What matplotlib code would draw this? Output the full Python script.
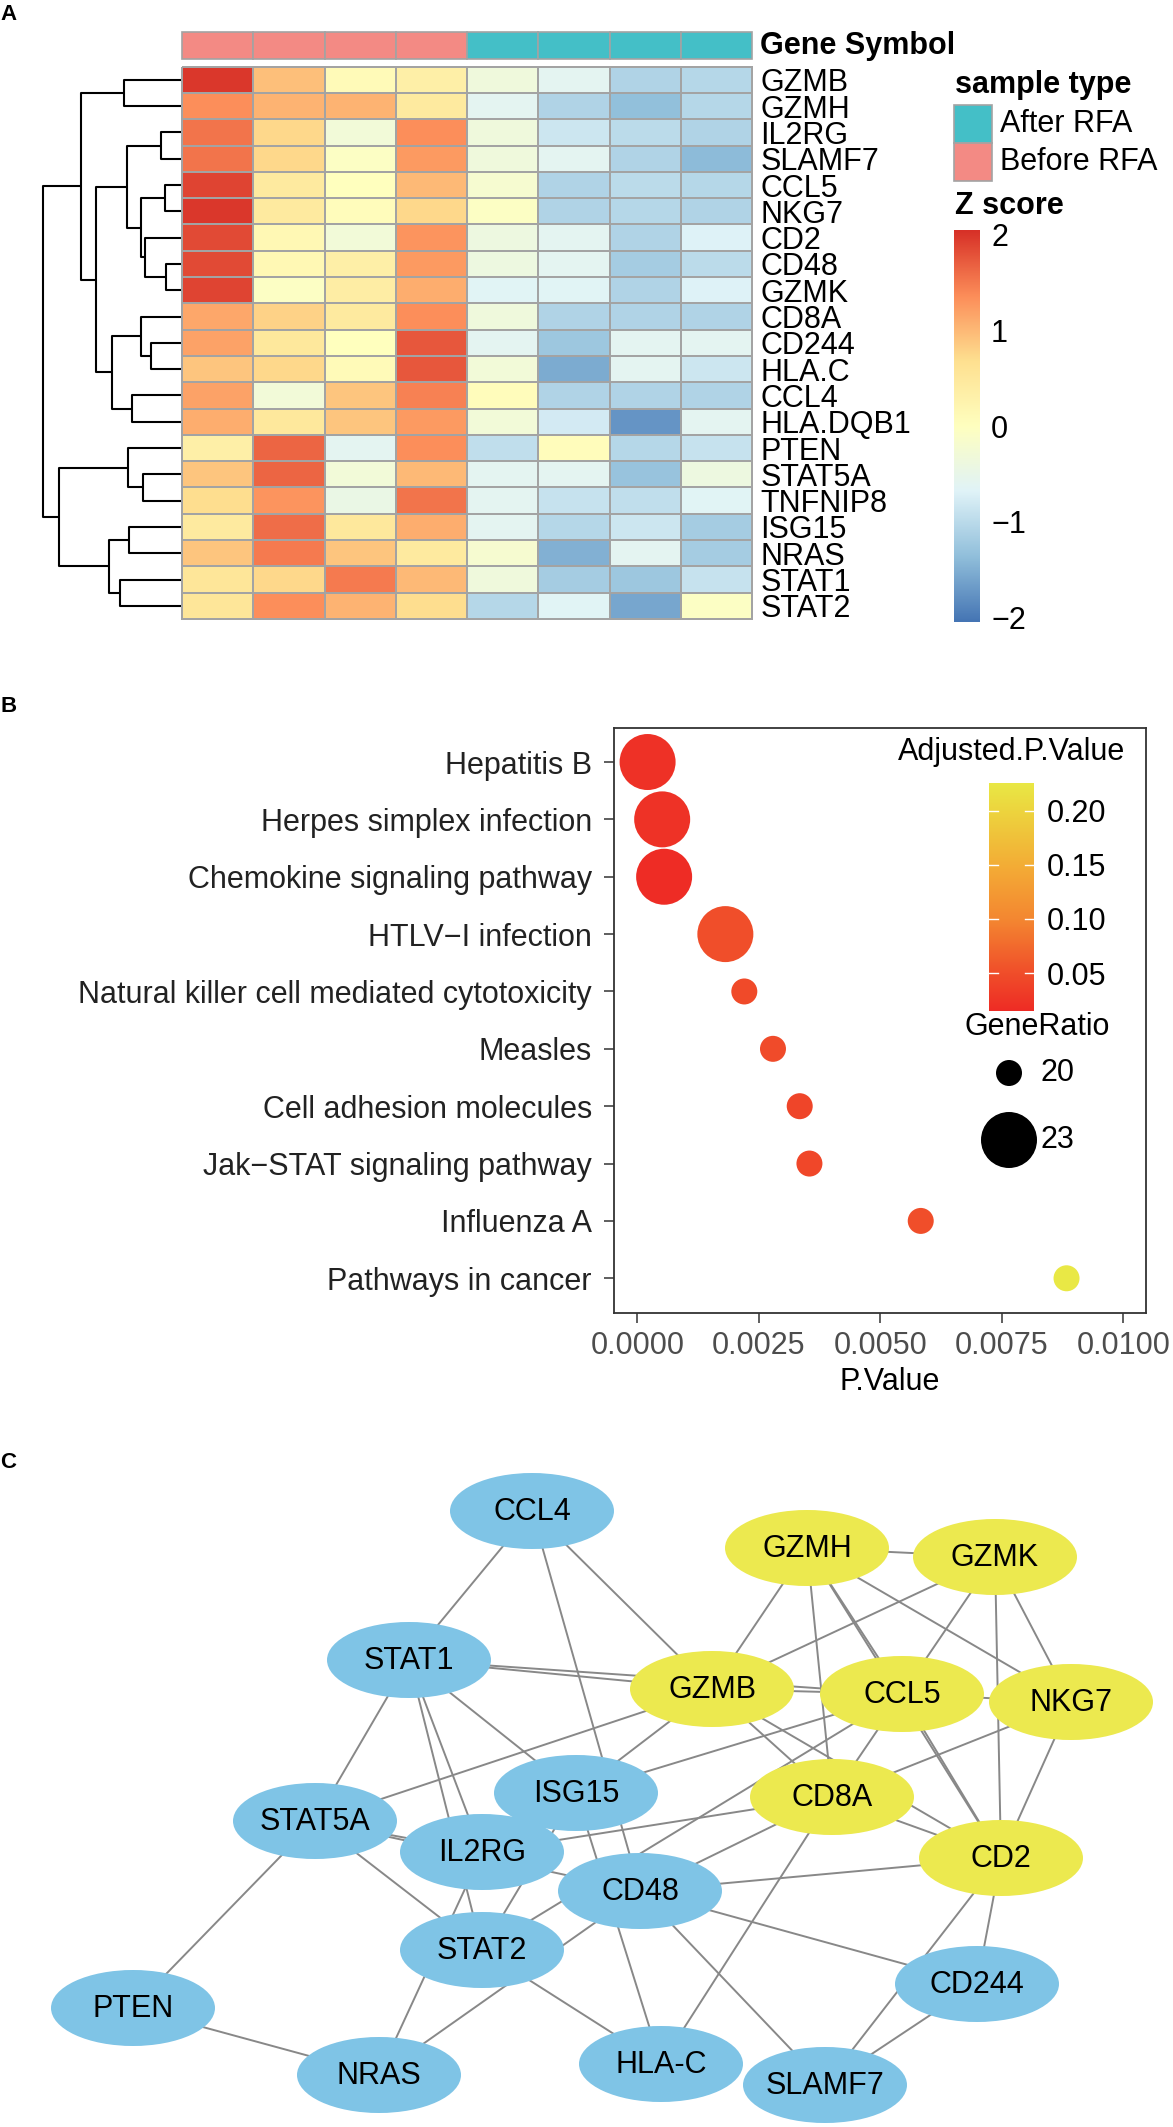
import numpy as np
import matplotlib
matplotlib.use("Agg")
import matplotlib.pyplot as plt
from matplotlib.colors import LinearSegmentedColormap, Normalize
from matplotlib.patches import Rectangle, Ellipse

plt.rcParams['font.family'] = ['Liberation Sans', 'DejaVu Sans']

# ---------------- data: panel A (heatmap) ----------------
genes = ["GZMB", "GZMH", "IL2RG", "SLAMF7", "CCL5", "NKG7", "CD2", "CD48", "GZMK",
         "CD8A", "CD244", "HLA.C", "CCL4", "HLA.DQB1", "PTEN", "STAT5A", "TNFNIP8",
         "ISG15", "NRAS", "STAT1", "STAT2"]
sample_type = ["Before RFA"] * 4 + ["After RFA"] * 4
z_GZMB = [2.0, 0.95, 0.1, 0.35, -0.35, -0.6, -1.1, -1.05]
z_GZMH = [1.35, 1.05, 1.05, 0.45, -0.6, -1.1, -1.35, -1.05]
z_IL2RG = [1.55, 0.75, -0.3, 1.35, -0.35, -0.85, -1.0, -1.1]
z_SLAMF7 = [1.55, 0.75, -0.05, 1.25, -0.35, -0.6, -1.1, -1.4]
z_CCL5 = [1.9, 0.45, 0.0, 1.0, -0.2, -1.1, -1.0, -1.05]
z_NKG7 = [2.0, 0.45, 0.05, 0.75, -0.05, -1.1, -1.05, -1.1]
z_CD2 = [1.85, 0.15, -0.3, 1.3, -0.4, -0.6, -1.1, -0.7]
z_CD48 = [1.85, 0.15, 0.35, 1.25, -0.4, -0.6, -1.2, -1.0]
z_GZMK = [1.9, -0.05, 0.4, 1.1, -0.65, -0.65, -1.1, -0.7]
z_CD8A = [1.15, 0.8, 0.45, 1.35, -0.35, -1.1, -1.1, -1.1]
z_CD244 = [1.2, 0.5, 0.0, 1.75, -0.6, -1.25, -0.6, -0.6]
z_HLAC = [0.9, 0.75, 0.1, 1.75, -0.3, -1.55, -0.6, -0.85]
z_CCL4 = [1.2, -0.3, 0.9, 1.45, 0.05, -1.1, -1.1, -1.1]
z_HLADQB1 = [1.1, 0.5, 0.9, 1.25, -0.3, -0.8, -1.75, -0.6]
z_PTEN = [0.35, 1.65, -0.6, 1.35, -0.95, 0.05, -1.05, -0.9]
z_STAT5A = [0.9, 1.65, -0.3, 1.0, -0.6, -0.6, -1.3, -0.4]
z_TNFNIP8 = [0.7, 1.3, -0.45, 1.55, -0.6, -0.9, -0.95, -0.65]
z_ISG15 = [0.45, 1.6, 0.5, 1.1, -0.6, -1.05, -0.85, -1.2]
z_NRAS = [0.9, 1.5, 0.9, 0.45, -0.2, -1.5, -0.6, -1.2]
z_STAT1 = [0.55, 0.75, 1.5, 1.0, -0.35, -1.2, -1.25, -0.9]
z_STAT2 = [0.55, 1.35, 1.05, 0.7, -1.05, -0.65, -1.6, -0.05]
zscores = [z_GZMB, z_GZMH, z_IL2RG, z_SLAMF7, z_CCL5, z_NKG7, z_CD2, z_CD48, z_GZMK,
           z_CD8A, z_CD244, z_HLAC, z_CCL4, z_HLADQB1, z_PTEN, z_STAT5A, z_TNFNIP8,
           z_ISG15, z_NRAS, z_STAT1, z_STAT2]
# row dendrogram: (child a, child b, height); leaves 0..20, new clusters 21..
dendro_merges = [(0, 1, 56.2), (2, 3, 19.9), (4, 5, 16.0), (7, 8, 14.1), (6, 24, 35.2),
                 (23, 25, 39.8), (22, 26, 53.2), (10, 11, 29.4), (9, 28, 39.8),
                 (12, 13, 48.6), (29, 30, 68.5), (27, 31, 84.9), (21, 32, 99.6),
                 (15, 16, 37.9), (14, 34, 52.4), (17, 18, 51.2), (19, 20, 60.8),
                 (36, 37, 71.6), (35, 38, 121.3), (33, 39, 137.4)]
z_ticks = [2, 1, 0, -1, -2]

# ---------------- data: panel B (dot plot) ----------------
pathways = ["Hepatitis B", "Herpes simplex infection", "Chemokine signaling pathway",
            "HTLV\u2212I infection", "Natural killer cell mediated cytotoxicity", "Measles",
            "Cell adhesion molecules", "Jak\u2212STAT signaling pathway", "Influenza A",
            "Pathways in cancer"]
p_values = [0.00021, 0.00051, 0.00055, 0.00181, 0.0022, 0.00279, 0.00334, 0.00354,
            0.00583, 0.00883]
adj_p_values = [0.020, 0.022, 0.015, 0.050, 0.046, 0.047, 0.041, 0.043, 0.050, 0.2256]
gene_ratio = [23, 23, 23, 23, 20, 20, 20, 20, 20, 20]
p_ticks = [0.0, 0.0025, 0.005, 0.0075, 0.01]
adj_ticks = [0.05, 0.10, 0.15, 0.20]
ratio_legend = [20, 23]

# ---------------- data: panel C (network) ----------------
node_names = ["CCL4", "GZMH", "GZMK", "STAT1", "GZMB", "CCL5", "NKG7", "ISG15", "CD8A",
              "STAT5A", "IL2RG", "CD2", "CD48", "STAT2", "CD244", "PTEN", "HLA-C",
              "NRAS", "SLAMF7"]
node_x = [532, 807, 995, 409, 712, 902, 1071, 576, 832, 315, 482, 1001, 640, 482, 977,
          133, 661, 379, 825]
node_y = [1511, 1548, 1557, 1660, 1689, 1694, 1702, 1793, 1797, 1821, 1852, 1858, 1891,
          1950, 1984, 2008, 2064, 2075, 2085]
node_group = ["other", "hub", "hub", "other", "hub", "hub", "hub", "other", "hub",
              "other", "other", "hub", "other", "other", "other", "other", "other",
              "other", "other"]
edges = [("CCL4", "STAT1"), ("CCL4", "GZMB"), ("CCL4", "CD48"), ("STAT1", "GZMB"),
         ("STAT1", "CCL5"), ("STAT1", "STAT5A"), ("STAT1", "IL2RG"), ("STAT1", "STAT2"),
         ("STAT1", "ISG15"), ("STAT5A", "GZMB"), ("STAT5A", "IL2RG"), ("STAT5A", "CD48"),
         ("STAT5A", "STAT2"), ("STAT5A", "PTEN"), ("IL2RG", "CD8A"), ("IL2RG", "NRAS"),
         ("ISG15", "HLA-C"), ("ISG15", "STAT2"), ("ISG15", "GZMB"), ("ISG15", "CCL5"),
         ("CD48", "CD2"), ("CD48", "CD8A"), ("CD48", "SLAMF7"), ("CD48", "CD244"),
         ("CD48", "NRAS"), ("STAT2", "CCL5"), ("STAT2", "HLA-C"), ("PTEN", "NRAS"),
         ("HLA-C", "CD8A"), ("SLAMF7", "CD2"), ("SLAMF7", "CD244"), ("CD244", "CD2"),
         ("GZMB", "CD2"), ("GZMB", "CD8A"), ("CD8A", "CD2"), ("CD2", "NKG7"),
         ("GZMK", "CD2"), ("CCL5", "CD2"), ("GZMH", "CD2"), ("GZMH", "CCL5"),
         ("CD8A", "NKG7"), ("CD8A", "CCL5"), ("GZMH", "CD8A"), ("GZMB", "GZMH"),
         ("GZMB", "GZMK"), ("GZMB", "CCL5"), ("CCL5", "GZMK"), ("CCL5", "NKG7"),
         ("GZMH", "GZMK"), ("GZMH", "NKG7"), ("GZMK", "NKG7")]

# ---------------- styles ----------------
W, H = 1173, 2127
fig = plt.figure(figsize=(W / 100, H / 100), dpi=100)
fig.patch.set_facecolor("white")


def R(x0, y0, x1, y1):
    return [x0 / W, 1 - y1 / H, (x1 - x0) / W, (y1 - y0) / H]


grid_c = "#A3A3A3"
type_colors = {"Before RFA": "#F38A84", "After RFA": "#44BFC7"}
zcmap = LinearSegmentedColormap.from_list(
    "z", ["#4575B4", "#91BFDB", "#E0F3F8", "#FFFFBF", "#FEE090", "#FC8D59", "#D73027"])
znorm = Normalize(-2.05, 2.05)
pcmap = LinearSegmentedColormap.from_list(
    "adj", list(zip([0, 0.166, 0.403, 0.64, 0.877, 1.0],
                    ["#EE2C25", "#F04E2A", "#F48731", "#F3AD36", "#EDD43E", "#E9E845"])))
pnorm = Normalize(0.0149, 0.2256)
node_colors = {"hub": "#ECE94F", "other": "#7FC4E6"}
fs_a = 22

# ---------------- panel A ----------------
Z = np.array(zscores)
nr, nc = Z.shape
axh = fig.add_axes(R(182, 66.7, 752, 619))
mesh = axh.pcolormesh(Z, cmap=zcmap, norm=znorm, edgecolors=grid_c, linewidth=1.2)
mesh.set_clip_on(False)
axh.set_xlim(0, nc)
axh.set_ylim(nr, 0)
axh.set_xticks([])
axh.set_yticks(np.arange(nr) + 0.5)
axh.set_yticklabels(genes, fontsize=fs_a)
axh.yaxis.tick_right()
axh.tick_params(axis='y', length=0, pad=6)
for s in axh.spines.values():
    s.set_visible(False)

axa = fig.add_axes(R(182, 32.3, 752, 59))
for i, t in enumerate(sample_type):
    axa.add_patch(Rectangle((i, 0), 1, 1, facecolor=type_colors[t], edgecolor=grid_c,
                            lw=1.2, clip_on=False))
axa.set_xlim(0, nc)
axa.set_ylim(0, 1)
axa.axis('off')

axd = fig.add_axes(R(40.2, 66.7, 180.6, 619))
axd.set_xlim(140.4, 0)
axd.set_ylim(nr, 0)
axd.axis('off')
pos = {i: (i + 0.5, 0.0) for i in range(nr)}
nid = nr
for a, b, h in dendro_merges:
    ya, ha = pos[a]
    yb, hb = pos[b]
    axd.plot([ha, h, h, hb], [ya, ya, yb, yb], color='black', lw=1.5,
             solid_capstyle='butt', clip_on=False)
    pos[nid] = ((ya + yb) / 2, h)
    nid += 1

axz = fig.add_axes(R(954, 230, 980, 622))
grad = np.linspace(2.05, -2.05, 256).reshape(-1, 1)
axz.imshow(grad, cmap=zcmap, norm=znorm, aspect='auto', extent=[0, 1, -2.05, 2.05])
axz.set_xlim(0, 1)
axz.set_ylim(-2.05, 2.05)
axz.set_xticks([])
axz.yaxis.tick_right()
axz.set_yticks(z_ticks)
axz.set_yticklabels([str(v).replace('-', '\u2212') for v in z_ticks], fontsize=fs_a)
axz.tick_params(axis='y', length=0, pad=8)
for s in axz.spines.values():
    s.set_visible(False)

# ---------------- panel B ----------------
def ratio_size(g):
    d_px = 26 + (g - 20) * 10.0
    return (d_px * 0.72) ** 2


axb = fig.add_axes(R(614.4, 727.6, 1146, 1312.7))
ypos = np.arange(len(pathways))
axb.scatter(p_values, ypos, s=[ratio_size(g) for g in gene_ratio], c=adj_p_values,
            cmap=pcmap, norm=pnorm, edgecolors='none', zorder=3)
axb.set_xlim(-0.000473, 0.010465)
axb.set_ylim(len(pathways) - 0.4, -0.6)
axb.set_yticks(ypos)
axb.set_yticklabels(pathways, fontsize=22, color='#222222')
axb.set_xticks(p_ticks)
axb.set_xticklabels(["%.4f" % v for v in p_ticks], fontsize=22, color='#4D4D4D')
axb.tick_params(axis='both', length=7.2, width=1.1, color='#333333')
axb.tick_params(axis='y', pad=9)
axb.tick_params(axis='x', pad=6)
for s in axb.spines.values():
    s.set_color('#333333')
    s.set_linewidth(1.3)

axc = fig.add_axes(R(989, 783, 1034, 1011))
lo, hi = pnorm.vmin, pnorm.vmax
g2 = np.linspace(hi, lo, 256).reshape(-1, 1)
axc.imshow(g2, cmap=pcmap, norm=pnorm, aspect='auto', extent=[0, 1, lo, hi])
axc.set_xlim(0, 1)
axc.set_ylim(lo, hi)
axc.set_xticks([])
axc.yaxis.tick_right()
axc.set_yticks(adj_ticks)
axc.set_yticklabels(["%.2f" % v for v in adj_ticks], fontsize=22)
axc.tick_params(axis='y', length=0, pad=9)
for v in adj_ticks:
    axc.plot([0, 0.2], [v, v], color='white', lw=1.0)
    axc.plot([0.8, 1], [v, v], color='white', lw=1.0)
for s in axc.spines.values():
    s.set_visible(False)

# ---------------- overlay (pixel coordinates): legends, labels, network ----------------
ov = fig.add_axes([0, 0, 1, 1])
ov.set_xlim(0, W)
ov.set_ylim(H, 0)
ov.axis('off')
ov.patch.set_alpha(0)

ov.text(0, 15, "A", fontsize=16, fontweight='bold', va='center')
ov.text(0, 707, "B", fontsize=16, fontweight='bold', va='center')
ov.text(0, 1463, "C", fontsize=16, fontweight='bold', va='center')

ov.text(760, 46, "Gene Symbol", fontsize=fs_a, fontweight='bold', va='center')
ov.text(955, 85, "sample type", fontsize=fs_a, fontweight='bold', va='center')
for k, t in enumerate(["After RFA", "Before RFA"]):
    ov.add_patch(Rectangle((954, 105 + 38 * k), 38, 38, facecolor=type_colors[t],
                           edgecolor=grid_c, lw=1.2))
    ov.text(1000, 124 + 38 * k, t, fontsize=fs_a, va='center')
ov.text(955, 206, "Z score", fontsize=fs_a, fontweight='bold', va='center')

ov.text(889.7, 1381.5, "P.Value", fontsize=22, ha='center', va='center')
ov.text(897.5, 752, "Adjusted.P.Value", fontsize=22, va='center')
ov.text(965, 1027, "GeneRatio", fontsize=22, va='center')
for k, g in enumerate(ratio_legend):
    yy = 1073 + 67 * k
    ov.scatter([1009], [yy], s=ratio_size(g), color='black', edgecolors='none')
    ov.text(1040, yy, str(g), fontsize=22, va='center')

idx = {n: i for i, n in enumerate(node_names)}
for a, b in edges:
    i, j = idx[a], idx[b]
    ov.plot([node_x[i], node_x[j]], [node_y[i], node_y[j]], color='#888888', lw=1.4,
            zorder=1)
for n, x, y, g in zip(node_names, node_x, node_y, node_group):
    ov.add_patch(Ellipse((x, y), 164, 76, facecolor=node_colors[g], edgecolor='none',
                         zorder=2))
    ov.text(x, y + 1, n, ha='center', va='center', fontsize=22, zorder=3)

fig.savefig("out.png", dpi=100, facecolor='white')
